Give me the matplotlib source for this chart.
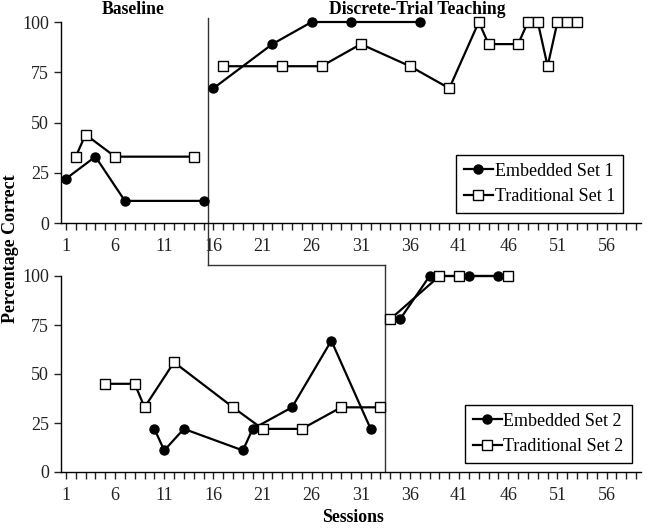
import numpy as np
import matplotlib
matplotlib.use("Agg")
import matplotlib.pyplot as plt

plt.rcParams['font.family'] = ['Liberation Serif', 'DejaVu Serif']

# Set 1 (top panel)
emb1_base_x = [1, 4, 7, 15]
emb1_base_y = [22, 33, 11, 11]
emb1_dtt_x = [16, 22, 26, 30, 37]
emb1_dtt_y = [67, 89, 100, 100, 100]
trad1_base_x = [2, 3, 6, 14]
trad1_base_y = [33, 44, 33, 33]
trad1_dtt_x = [17, 23, 27, 31, 36, 40, 43, 44, 47, 48, 49, 50, 51, 52, 53]
trad1_dtt_y = [78, 78, 78, 89, 78, 67, 100, 89, 89, 100, 100, 78, 100, 100, 100]

# Set 2 (bottom panel)
emb2_base_x = [10, 11, 13, 19, 20, 24, 28, 32]
emb2_base_y = [22, 11, 22, 11, 22, 33, 67, 22]
emb2_dtt_x = [35, 38, 42, 45]
emb2_dtt_y = [78, 100, 100, 100]
trad2_base_x = [5, 8, 9, 12, 18, 21, 25, 29, 33]
trad2_base_y = [45, 45, 33, 56, 33, 22, 22, 33, 33]
trad2_dtt_x = [34, 39, 41, 46]
trad2_dtt_y = [78, 100, 100, 100]

phase_change = [15.5, 33.5]
xticks = list(range(1, 57, 5))
yticks = [0, 25, 50, 75, 100]

fig = plt.figure(figsize=(6.5, 5.28), dpi=100)
ax1 = fig.add_axes([61/650, 1 - 223/528, 580/650, 201/528])
ax2 = fig.add_axes([61/650, 1 - 472/528, 580/650, 196/528])

emb_style = dict(color='black', marker='o', markersize=6.5, lw=1.6, clip_on=False, zorder=3)
trad_style = dict(color='black', marker='s', markersize=6.5, markerfacecolor='white',
                  markeredgewidth=1.0, lw=1.6, clip_on=False, zorder=3)


def plot_set(ax, ex, ey, tx, ty, ex2, ey2, tx2, ty2, n):
    ax.plot(ex, ey, label='Embedded Set %d' % n, **emb_style)
    ax.plot(tx, ty, label='Traditional Set %d' % n, **trad_style)
    ax.plot(ex2, ey2, **emb_style)
    ax.plot(tx2, ty2, **trad_style)


plot_set(ax1, emb1_base_x, emb1_base_y, trad1_base_x, trad1_base_y,
         emb1_dtt_x, emb1_dtt_y, trad1_dtt_x, trad1_dtt_y, 1)
plot_set(ax2, emb2_base_x, emb2_base_y, trad2_base_x, trad2_base_y,
         emb2_dtt_x, emb2_dtt_y, trad2_dtt_x, trad2_dtt_y, 2)

for ax in (ax1, ax2):
    ax.set_xlim(0.5, 59.5)
    ax.set_ylim(0, 100)
    ax.spines['top'].set_visible(False)
    ax.spines['right'].set_visible(False)
    ax.spines['left'].set_linewidth(1.0)
    ax.spines['bottom'].set_linewidth(1.0)
    ax.set_xticks(xticks)
    ax.set_xticks(range(1, 60), minor=True)
    ax.set_yticks(yticks)
    ax.tick_params(axis='both', which='both', direction='out', length=5, width=1.0,
                   labelsize=13, colors='#222222')
    ax.tick_params(axis='x', which='major', pad=6)
    ax.patch.set_alpha(0)

# phase change line (step across both panels)
ax1.plot([phase_change[0], phase_change[0]], [102, -21], color='#333333', lw=1.0, clip_on=False)
ax1.plot([phase_change[0], phase_change[1]], [-21, -21], color='#333333', lw=1.0, clip_on=False)
ax2.plot([phase_change[1], phase_change[1]], [105.5, 0], color='#333333', lw=1.0, clip_on=False)

leg_kw = dict(loc='lower right', fancybox=False, edgecolor='black', framealpha=1,
              fontsize=13, handlelength=1.6, handletextpad=0.1, labelspacing=0.45,
              borderpad=0.45, borderaxespad=0)
l1 = ax1.legend(bbox_to_anchor=(0.969, 0.05), **leg_kw)
l2 = ax2.legend(bbox_to_anchor=(0.984, 0.046), **leg_kw)
for l in (l1, l2):
    l.get_frame().set_linewidth(1.0)

fig.text(133/650, 1 - 9/528, 'Baseline', ha='center', va='center', fontsize=12.7, fontweight='bold')
fig.text(417/650, 1 - 9/528, 'Discrete-Trial Teaching', ha='center', va='center',
         fontsize=12.7, fontweight='bold')
fig.text(10.5/650, 1 - 249/528, 'Percentage Correct', rotation=90, ha='center', va='center',
         fontsize=13, fontweight='bold')
fig.text(353/650, 1 - 518/528, 'Sessions', ha='center', va='center', fontsize=12.8,
         fontweight='bold')

fig.savefig('out.png', dpi=100)
